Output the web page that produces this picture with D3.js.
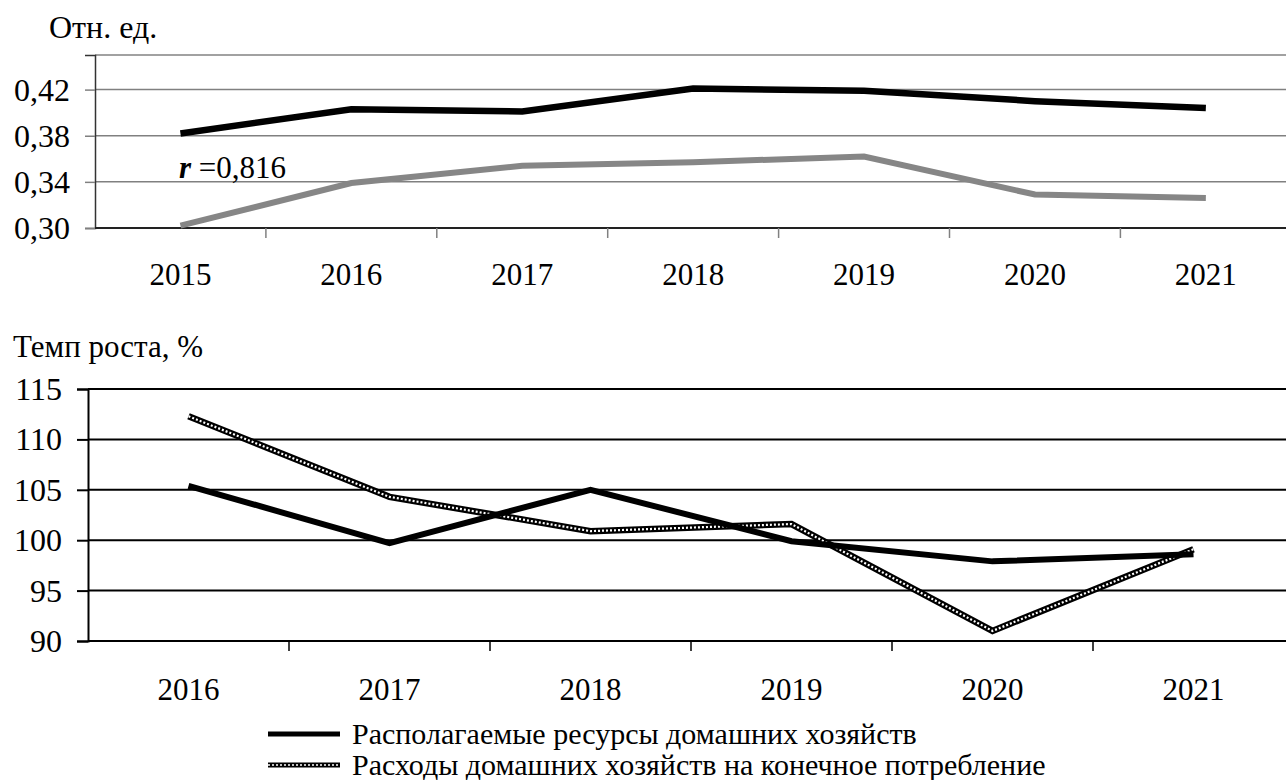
<!DOCTYPE html>
<html><head><meta charset="utf-8">
<script src="https://cdn.jsdelivr.net/npm/d3@7"></script>
</head>
<body style="margin:0;background:#fff">
<svg id="c" width="1286" height="780"></svg>
<script>
// ---- data ----
const yearsTop = ["2015","2016","2017","2018","2019","2020","2021"];
const ratioBlack = [0.382, 0.403, 0.401, 0.421, 0.419, 0.410, 0.404];
const ratioGray  = [0.302, 0.339, 0.354, 0.357, 0.362, 0.329, 0.326];
const topTicks = [0.30, 0.34, 0.38, 0.42];
const corrLabel = "=0,816";

const yearsBottom = ["2016","2017","2018","2019","2020","2021"];
const growthResources = [105.4, 99.7, 105.0, 99.9, 97.9, 98.6];
const growthConsumption = [112.3, 104.3, 100.9, 101.6, 91.0, 99.1];
const bottomTicks = [90, 95, 100, 105, 110, 115];
const legendLabels = ["Располагаемые ресурсы домашних хозяйств", "Расходы домашних хозяйств на конечное потребление"];

const FONT = "Liberation Serif";
const svg = d3.select("#c");
const comma = v => d3.format(".2f")(v).replace(".", ",");

function txt(parent, x, y, size, s) {
  return parent.append("text").attr("x", x).attr("y", y)
    .style("font-family", FONT).attr("font-size", size).text(s);
}

// ---- top chart ----
{
  const x0 = 95, step = 170.9;
  const x = d3.scaleBand().domain(yearsTop).range([x0, x0 + step*yearsTop.length]).padding(0);
  const y = d3.scaleLinear().domain([0.30, 0.45]).range([228, 55]);
  const g = svg.append("g");
  g.selectAll("line.grid").data(topTicks.slice(1)).join("line")
    .attr("x1", x0).attr("x2", 1286).attr("y1", d=>y(d)).attr("y2", d=>y(d))
    .attr("stroke", "#808080").attr("stroke-width", 1.5);
  g.append("line").attr("x1", x0).attr("x2", 1286).attr("y1", y(0.45)).attr("y2", y(0.45)).attr("stroke", "#444").attr("stroke-width", 1.2);
  const ya = d3.axisLeft(y).tickValues(topTicks).tickFormat(comma).tickSize(10).tickPadding(15);
  const yg = g.append("g").attr("transform", `translate(${x0},0)`).call(ya);
  yg.select(".domain").attr("stroke", "#333").attr("stroke-width", 1.5);
  yg.selectAll(".tick line").attr("stroke", "#808080").attr("stroke-width", 1.5);
  yg.selectAll(".tick text").remove();
  g.selectAll("text.yl").data(topTicks).join("text")
    .attr("x", x0 - 25).attr("y", d=>y(d) + 11).attr("text-anchor", "end")
    .style("font-family", FONT).attr("font-size", 32).text(comma);
  g.append("line").attr("x1", x0).attr("x2", 1286).attr("y1", y(0.30)).attr("y2", y(0.30)).attr("stroke", "#222").attr("stroke-width", 2);
  g.selectAll("line.xt").data(yearsTop.slice(1)).join("line")
    .attr("x1", d=>x(d)).attr("x2", d=>x(d)).attr("y1", y(0.30)).attr("y2", y(0.30)+10)
    .attr("stroke", "#808080").attr("stroke-width", 1.5);
  g.selectAll("text.xl").data(yearsTop).join("text")
    .attr("x", d=>x(d)+x.bandwidth()/2).attr("y", 285).attr("text-anchor", "middle")
    .style("font-family", FONT).attr("font-size", 31).text(d=>d);
  const line = d3.line().x((d,i)=>x(yearsTop[i])+x.bandwidth()/2).y(d=>y(d));
  g.append("path").datum(ratioGray).attr("d", line).attr("fill","none")
    .attr("stroke", "#868686").attr("stroke-width", 6);
  g.append("path").datum(ratioBlack).attr("d", line).attr("fill","none")
    .attr("stroke", "#000").attr("stroke-width", 6.5);
  txt(g, 49, 38, 32, "Отн. ед.");
  const t = g.append("text").attr("x", 179).attr("y", 178).attr("font-size", 31).style("font-family", FONT);
  t.append("tspan").attr("font-weight", "bold").attr("font-style", "italic").text("r");
  t.append("tspan").text(" " + corrLabel);
}

// ---- bottom chart ----
{
  const x0 = 88, step = 201;
  const x = d3.scaleBand().domain(yearsBottom).range([x0, x0 + step*yearsBottom.length]).padding(0);
  const y = d3.scaleLinear().domain([90, 115]).range([641, 389]);
  const g = svg.append("g");
  g.selectAll("line.grid").data(bottomTicks.slice(1)).join("line")
    .attr("x1", x0).attr("x2", 1286).attr("y1", d=>y(d)).attr("y2", d=>y(d))
    .attr("stroke", "#000").attr("stroke-width", 2);
  const ya = d3.axisLeft(y).tickValues(bottomTicks).tickSize(11).tickPadding(15);
  const yg = g.append("g").attr("transform", `translate(${x0},0)`).call(ya);
  yg.select(".domain").attr("stroke", "#000").attr("stroke-width", 2);
  yg.selectAll(".tick line").attr("stroke", "#000").attr("stroke-width", 2);
  yg.selectAll(".tick text").remove();
  g.selectAll("text.yl").data(bottomTicks).join("text")
    .attr("x", x0 - 26).attr("y", d=>y(d) + 11).attr("text-anchor", "end")
    .style("font-family", FONT).attr("font-size", 32).text(d=>d);
  g.append("line").attr("x1", x0).attr("x2", 1286).attr("y1", y(90)).attr("y2", y(90)).attr("stroke", "#000").attr("stroke-width", 2);
  g.selectAll("line.xt").data(yearsBottom.slice(1)).join("line")
    .attr("x1", d=>x(d)).attr("x2", d=>x(d)).attr("y1", y(90)).attr("y2", y(90)+10)
    .attr("stroke", "#000").attr("stroke-width", 1.5);
  g.selectAll("text.xl").data(yearsBottom).join("text")
    .attr("x", d=>x(d)+x.bandwidth()/2).attr("y", 700).attr("text-anchor", "middle")
    .style("font-family", FONT).attr("font-size", 31).text(d=>d);
  const line = d3.line().x((d,i)=>x(yearsBottom[i])+x.bandwidth()/2).y(d=>y(d));
  g.append("path").datum(growthConsumption).attr("d", line).attr("fill","none")
    .attr("stroke", "#000").attr("stroke-width", 6.5);
  g.append("path").datum(growthConsumption).attr("d", line).attr("fill","none")
    .attr("stroke", "#fff").attr("stroke-width", 2.2).attr("stroke-dasharray", "2,2");
  g.append("path").datum(growthResources).attr("d", line).attr("fill","none")
    .attr("stroke", "#000").attr("stroke-width", 6);
  txt(g, 13, 357, 31, "Темп роста, %");
  const legendY = [734, 765];
  legendLabels.forEach((lab, i) => {
    const ly = legendY[i];
    g.append("line").attr("x1", 268).attr("x2", 340).attr("y1", ly).attr("y2", ly)
      .attr("stroke", "#000").attr("stroke-width", 5);
    if (i === 1) g.append("line").attr("x1", 268).attr("x2", 340).attr("y1", ly).attr("y2", ly)
      .attr("stroke", "#fff").attr("stroke-width", 1.5).attr("stroke-dasharray", "2,2");
    txt(g, 352, ly + 10, 30, lab);
  });
}
</script>
</body></html>
